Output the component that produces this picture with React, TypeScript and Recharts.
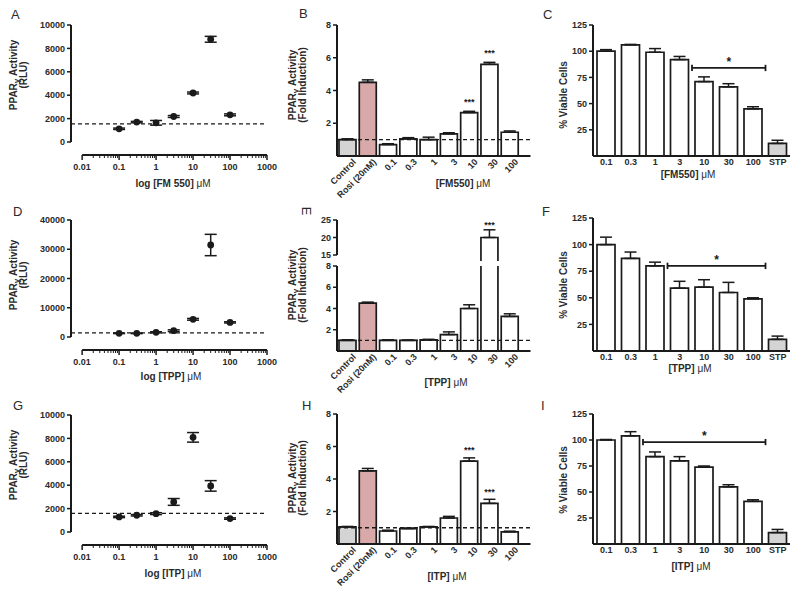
import React from "react";
import {
  ComposedChart,
  Bar,
  Scatter,
  XAxis,
  YAxis,
  ReferenceLine,
  ErrorBar,
  Cell,
  LabelList,
} from "recharts";

const FONT = '"Liberation Sans", Arial, Helvetica, sans-serif';
const INK = "#1a1a1a";
const TXT = "#2a2a2a";

// ---------- Dose-response (A, D, G) ----------
const concentrations = [0.1, 0.3, 1, 3, 10, 30, 100];
const fm550Rlu = [1130, 1700, 1640, 2180, 4190, 8780, 2320];
const fm550RluErr = [60, 60, 200, 80, 80, 250, 80];
const tppRlu = [1260, 1260, 1600, 2150, 6050, 31450, 5000];
const tppRluErr = [100, 100, 200, 300, 300, 3650, 200];
const itpRlu = [1290, 1430, 1570, 2570, 8090, 3940, 1150];
const itpRluErr = [60, 60, 80, 290, 410, 450, 60];
const logMajorTicks = [0.01, 0.1, 1, 10, 100, 1000];
const logMinorSteps = [2, 3, 4, 5, 6, 7, 8, 9];
const rluTicks10k = [0, 2000, 4000, 6000, 8000, 10000];
const rluTicks40k = [0, 10000, 20000, 30000, 40000];

// ---------- Transactivation (B, E, H) ----------
const transCategories = ["Control", "Rosi (20nM)", "0.1", "0.3", "1", "3", "10", "30", "100"];
const fm550Fold = [1.0, 4.5, 0.7, 1.05, 1.0, 1.35, 2.65, 5.6, 1.45];
const fm550FoldErr = [0.05, 0.15, 0.05, 0.07, 0.15, 0.07, 0.08, 0.12, 0.08];
const fm550FoldSig = ["", "", "", "", "", "", "***", "***", ""];
const tppFold = [1.0, 4.5, 1.0, 1.0, 1.05, 1.55, 4.0, 20.0, 3.25];
const tppFoldErr = [0.05, 0.1, 0.05, 0.03, 0.05, 0.25, 0.35, 2.2, 0.25];
const tppFoldSig = ["", "", "", "", "", "", "", "***", ""];
const itpFold = [1.05, 4.5, 0.8, 0.95, 1.05, 1.6, 5.1, 2.5, 0.75];
const itpFoldErr = [0.03, 0.15, 0.05, 0.03, 0.03, 0.1, 0.2, 0.25, 0.04];
const itpFoldSig = ["", "", "", "", "", "", "***", "***", ""];
const foldTicks = [2, 4, 6, 8];
const foldBreakTicks = [15, 20, 25];

// ---------- Viability (C, F, I) ----------
const viabilityCategories = ["0.1", "0.3", "1", "3", "10", "30", "100", "STP"];
const fm550Viable = [100, 106, 99, 92, 71, 66, 45, 12];
const fm550ViableErr = [1.5, 0.5, 3.5, 3, 4.5, 3, 2, 3];
const tppViable = [100, 87, 80, 59, 60, 55, 49, 11];
const tppViableErr = [7, 6, 3.5, 6.5, 7, 9.5, 1, 3];
const itpViable = [100, 104, 84, 80, 74, 55, 41, 11];
const itpViableErr = [0.5, 4, 4.5, 4, 1, 2, 1.5, 3];
const viableTicks = [25, 50, 75, 100, 125];

const WHITE = "#ffffff";
const GRAY = "#d4d4d4";
const PINK = "#d9a9a9";
const fillFor = (name: string) =>
  name === "Control" || name === "STP" ? GRAY : name.startsWith("Rosi") ? PINK : WHITE;

const tickStyle = { fontSize: 9, fontWeight: "bold", fill: TXT, fontFamily: FONT } as any;

// ---------- ticks ----------
const LogTick = (props: any) => {
  const { x, y, payload } = props;
  const v = payload.value;
  const major = logMajorTicks.includes(v);
  return (
    <g>
      <line x1={x} x2={x} y1={y} y2={y + (major ? 5 : 3)} stroke={INK} strokeWidth={major ? 1.5 : 1} />
      {major && (
        <text x={x} y={y + 15} textAnchor="middle" style={tickStyle}>
          {String(v)}
        </text>
      )}
    </g>
  );
};

// ---------- Dose panel ----------
function DosePanel(props: {
  plotLeft: number;
  plotTop: number;
  values: number[];
  errs: number[];
  yMax: number;
  yTicks: number[];
  baseline: number;
}) {
  const { plotLeft, plotTop, values, errs, yMax, yTicks, baseline } = props;
  const plotW = 196;
  const plotH = 130;
  const yw = 42;
  const mt = 6;
  const mr = 16;
  const xh = 22;
  const yMin = -yMax / 9;
  const xMin = 0.005;
  const data = concentrations.map((c, i) => ({ x: c, y: values[i], err: errs[i] }));
  const minor: number[] = [];
  logMajorTicks.slice(0, -1).forEach((d) =>
    logMinorSteps.forEach((m) => minor.push(parseFloat((d * m).toPrecision(3))))
  );
  const ticks = [...logMajorTicks, ...minor].sort((a, b) => a - b);
  return (
    <div style={{ position: "absolute", left: plotLeft - yw, top: plotTop - mt }}>
      <ComposedChart
        width={yw + plotW + mr}
        height={mt + plotH + xh}
        data={data}
        margin={{ top: mt, right: mr, bottom: 0, left: 0 }}
      >
        <XAxis
          dataKey="x"
          type="number"
          scale="log"
          domain={[xMin, 1000]}
          allowDataOverflow
          ticks={ticks}
          interval={0}
          axisLine={false}
          tickLine={false}
          tickSize={0}
          tickMargin={0}
          tick={<LogTick />}
          height={xh}
        />
        <YAxis
          dataKey="y"
          type="number"
          domain={[yMin, yMax]}
          allowDataOverflow
          ticks={yTicks}
          interval={0}
          width={yw}
          axisLine={false}
          tickSize={4}
          tickMargin={2}
          tickLine={{ stroke: INK, strokeWidth: 1.5 }}
          tick={tickStyle}
        />
        <ReferenceLine
          segment={[{ x: xMin, y: 0 }, { x: xMin, y: yMax }]}
          stroke={INK}
          strokeWidth={2}
          ifOverflow="visible"
        />
        <ReferenceLine
          segment={[{ x: 0.01, y: yMin }, { x: 1000, y: yMin }]}
          stroke={INK}
          strokeWidth={2}
          ifOverflow="visible"
        />
        <ReferenceLine y={baseline} stroke={INK} strokeDasharray="4 3" strokeWidth={1.3} ifOverflow="visible" />
        <Scatter
          dataKey="y"
          isAnimationActive={false}
          shape={(p: any) => <circle cx={p.cx} cy={p.cy} r={3.4} fill={INK} />}
        >
          <ErrorBar dataKey="err" direction="y" width={6} stroke={INK} strokeWidth={1.5} />
        </Scatter>
      </ComposedChart>
    </div>
  );
}

// ---------- Bar panel ----------
function BarPanel(props: {
  categories: string[];
  values: (number | null)[];
  errs: number[][];
  sig?: string[];
  plotLeft: number;
  plotRight: number;
  plotTop: number;
  plotBottom: number;
  yDomain: [number, number];
  yTicks: number[];
  barSize: number;
  padLeft: number;
  padRight: number;
  tickKind: "rot" | "flat" | "none";
  baseline?: number;
  bracket?: { from: string; to: string; y: number };
  starOffset?: number;
  openBottom?: boolean;
  overflow?: boolean;
}) {
  const p = props;
  const yw = 30;
  const mt = 6;
  const mr = 4;
  const xh = p.tickKind === "rot" ? 50 : p.tickKind === "flat" ? 20 : 0;
  const mb = p.tickKind === "none" ? 8 : 0;
  const data = p.categories.map((name, i) => ({
    name,
    v: p.values[i],
    err: p.errs[i],
    sig: p.sig ? p.sig[i] : "",
  }));
  const plotW = p.plotRight - p.plotLeft;
  const plotH = p.plotBottom - p.plotTop;
  const openShape = (s: any) => {
    if (s.height == null || s.width == null || !s.height) return <g />;
    const x0 = s.x;
    const x1 = s.x + s.width;
    const yT = s.y;
    const yB = s.y + s.height + 6;
    return (
      <g>
        <rect x={x0} y={yT} width={s.width} height={s.height + 6} fill={WHITE} />
        <path d={`M${x0},${yB} L${x0},${yT} L${x1},${yT} L${x1},${yB}`} fill="none" stroke={INK} strokeWidth={1.7} />
      </g>
    );
  };
  return (
    <div style={{ position: "absolute", left: p.plotLeft - yw, top: p.plotTop - mt }}>
      <ComposedChart
        width={yw + plotW + mr}
        height={mt + plotH + xh + mb}
        data={data}
        margin={{ top: mt, right: mr, bottom: mb, left: 0 }}
      >
        {p.tickKind === "none" && (
          <XAxis dataKey="name" type="category" hide padding={{ left: p.padLeft, right: p.padRight }} />
        )}
        {p.tickKind === "rot" && (
          <XAxis
            dataKey="name"
            type="category"
            height={xh}
            padding={{ left: p.padLeft, right: p.padRight }}
            axisLine={{ stroke: INK, strokeWidth: 2 }}
            tickLine={false}
            tickSize={0}
            tickMargin={2}
            interval={0}
            angle={-45}
            textAnchor="end"
            tick={{ ...tickStyle, dx: 5 }}
          />
        )}
        {p.tickKind === "flat" && (
          <XAxis
            dataKey="name"
            type="category"
            height={xh}
            padding={{ left: p.padLeft, right: p.padRight }}
            axisLine={{ stroke: INK, strokeWidth: 2 }}
            tickLine={false}
            tickSize={0}
            tickMargin={3}
            interval={0}
            tick={tickStyle}
          />
        )}
        <YAxis
          type="number"
          domain={p.yDomain}
          allowDataOverflow={!!p.overflow}
          ticks={p.yTicks}
          interval={0}
          width={yw}
          axisLine={{ stroke: INK, strokeWidth: 2 }}
          tickSize={4}
          tickMargin={2}
          tickLine={{ stroke: INK, strokeWidth: 1.5 }}
          tick={tickStyle}
        />
        <Bar
          dataKey="v"
          barSize={p.barSize}
          stroke={INK}
          strokeWidth={1.7}
          isAnimationActive={false}
          shape={p.openBottom ? openShape : undefined}
        >
          {data.map((d, i) => (
            <Cell key={i} fill={fillFor(d.name)} />
          ))}
          <ErrorBar dataKey="err" direction="y" width={6} stroke={INK} strokeWidth={1.5} />
          <LabelList
            dataKey="sig"
            position="top"
            offset={p.starOffset ?? 8}
            style={{ fontSize: 9, fontWeight: "bold", fill: INK, fontFamily: FONT }}
          />
        </Bar>
        {p.baseline != null && (
          <ReferenceLine y={p.baseline} stroke={INK} strokeDasharray="4 3" strokeWidth={1.3} />
        )}
        {p.bracket && (
          <ReferenceLine
            segment={[
              { x: p.bracket.from, y: p.bracket.y },
              { x: p.bracket.to, y: p.bracket.y },
            ]}
            position="start"
            stroke={INK}
            strokeWidth={1.8}
            label={{ value: "*", position: "top", offset: 2, fontSize: 12, fontWeight: "bold", fill: INK, fontFamily: FONT }}
          />
        )}
        {p.bracket && (
          <ReferenceLine
            segment={[
              { x: p.bracket.from, y: p.bracket.y - 3 },
              { x: p.bracket.from, y: p.bracket.y + 3 },
            ]}
            position="start"
            stroke={INK}
            strokeWidth={1.8}
          />
        )}
        {p.bracket && (
          <ReferenceLine
            segment={[
              { x: p.bracket.to, y: p.bracket.y - 3 },
              { x: p.bracket.to, y: p.bracket.y + 3 },
            ]}
            position="start"
            stroke={INK}
            strokeWidth={1.8}
          />
        )}
      </ComposedChart>
    </div>
  );
}

const upErr = (errs: number[]) => errs.map((e) => [0, e]);

function TransPanel(props: { top: number; bottom: number; values: number[]; errs: number[]; sig: string[] }) {
  return (
    <BarPanel
      categories={transCategories}
      values={props.values}
      errs={upErr(props.errs)}
      sig={props.sig}
      plotLeft={336.5}
      plotRight={530}
      plotTop={props.top}
      plotBottom={props.bottom}
      yDomain={[0, 8]}
      yTicks={foldTicks}
      barSize={17}
      padLeft={0}
      padRight={11}
      tickKind="rot"
      baseline={1}
    />
  );
}

function ViabilityPanel(props: {
  top: number;
  bottom: number;
  values: number[];
  errs: number[];
  bracket: { from: string; to: string; y: number };
}) {
  return (
    <BarPanel
      categories={viabilityCategories}
      values={props.values}
      errs={upErr(props.errs)}
      plotLeft={593}
      plotRight={790}
      plotTop={props.top}
      plotBottom={props.bottom}
      yDomain={[0, 125]}
      yTicks={viableTicks}
      barSize={18}
      padLeft={1}
      padRight={0}
      tickKind="flat"
      bracket={props.bracket}
    />
  );
}

// ---------- text overlay ----------
const T = { fontFamily: FONT, fill: TXT } as any;

const Letter = ({ x, y, c, rot }: { x: number; y: number; c: string; rot?: boolean }) =>
  rot ? (
    <g transform={`translate(${x},${y})`}>
      <g transform="rotate(90)">
        <text x={0} y={4} textAnchor="middle" style={{ ...T, fontSize: 13 }}>
          {c}
        </text>
      </g>
    </g>
  ) : (
    <text x={x} y={y} style={{ ...T, fontSize: 13 }}>
      {c}
    </text>
  );

const Ppar = () => (
  <>
    PPAR
    <tspan fontSize={8} dy={2}>
      γ
    </tspan>
    <tspan dy={-2}> Activity</tspan>
  </>
);

const VTitle = ({ x, y, children }: { x: number; y: number; children: any }) => (
  <g transform={`translate(${x},${y})`}>
    <g transform="rotate(-90)">
      <text x={0} y={0} textAnchor="middle" style={{ ...T, fontSize: 10, fontWeight: "bold" }}>
        {children}
      </text>
    </g>
  </g>
);

const HTitle = ({ x, y, pre }: { x: number; y: number; pre: string }) => (
  <text x={x} y={y} textAnchor="middle" style={{ ...T, fontSize: 10, fontWeight: "bold" }}>
    {pre}
    <tspan fontWeight="normal">μM</tspan>
  </text>
);

export default function App() {
  return (
    <div
      style={{
        position: "absolute",
        left: 0,
        top: 0,
        width: 800,
        height: 600,
        background: "#fff",
        overflow: "hidden",
      }}
    >
      {/* Row 1 */}
      <DosePanel plotLeft={71} plotTop={25} values={fm550Rlu} errs={fm550RluErr} yMax={10000} yTicks={rluTicks10k} baseline={1550} />
      <TransPanel top={25} bottom={156} values={fm550Fold} errs={fm550FoldErr} sig={fm550FoldSig} />
      <ViabilityPanel top={25} bottom={156} values={fm550Viable} errs={fm550ViableErr} bracket={{ from: "10", to: "STP", y: 84 }} />

      {/* Row 2 */}
      <DosePanel plotLeft={71} plotTop={220} values={tppRlu} errs={tppRluErr} yMax={40000} yTicks={rluTicks40k} baseline={1400} />
      <BarPanel
        categories={transCategories}
        values={tppFold.map((v) => (v > 15 ? v : null))}
        errs={tppFoldErr.map((e, i) => (tppFold[i] > 15 ? [0, e] : [0, 0]))}
        sig={tppFoldSig}
        plotLeft={336.5}
        plotRight={530}
        plotTop={220}
        plotBottom={255}
        yDomain={[15, 25]}
        yTicks={foldBreakTicks}
        barSize={17}
        padLeft={0}
        padRight={11}
        tickKind="none"
        starOffset={10}
        openBottom
      />
      <BarPanel
        categories={transCategories}
        values={tppFold}
        errs={tppFoldErr.map((e, i) => (tppFold[i] > 8 ? [0, 0] : [0, e]))}
        plotLeft={336.5}
        plotRight={530}
        plotTop={266}
        plotBottom={351}
        yDomain={[0, 8]}
        yTicks={foldTicks}
        barSize={17}
        padLeft={0}
        padRight={11}
        tickKind="rot"
        baseline={1}
        overflow
      />
      <ViabilityPanel top={218} bottom={351} values={tppViable} errs={tppViableErr} bracket={{ from: "3", to: "STP", y: 80 }} />

      {/* Row 3 */}
      <DosePanel plotLeft={71} plotTop={415} values={itpRlu} errs={itpRluErr} yMax={10000} yTicks={rluTicks10k} baseline={1600} />
      <TransPanel top={414} bottom={544} values={itpFold} errs={itpFoldErr} sig={itpFoldSig} />
      <ViabilityPanel top={414} bottom={544} values={itpViable} errs={itpViableErr} bracket={{ from: "1", to: "STP", y: 98 }} />

      <svg width={800} height={600} style={{ position: "absolute", left: 0, top: 0, pointerEvents: "none" }}>
        <Letter x={11} y={19} c="A" />
        <Letter x={299} y={18} c="B" />
        <Letter x={543} y={19} c="C" />
        <Letter x={13} y={216} c="D" />
        <Letter x={306} y={211} c="E" rot />
        <Letter x={542} y={216} c="F" />
        <Letter x={13} y={410} c="G" />
        <Letter x={302} y={410} c="H" />
        <Letter x={541} y={410} c="I" />

        <VTitle x={17} y={75}><Ppar /></VTitle>
        <VTitle x={27} y={75}>(RLU)</VTitle>
        <VTitle x={17} y={275}><Ppar /></VTitle>
        <VTitle x={27} y={275}>(RLU)</VTitle>
        <VTitle x={17} y={465}><Ppar /></VTitle>
        <VTitle x={27} y={465}>(RLU)</VTitle>

        <VTitle x={296} y={85}><Ppar /></VTitle>
        <VTitle x={306} y={85}>(Fold Induction)</VTitle>
        <VTitle x={296} y={285}><Ppar /></VTitle>
        <VTitle x={306} y={285}>(Fold Induction)</VTitle>
        <VTitle x={296} y={478}><Ppar /></VTitle>
        <VTitle x={306} y={478}>(Fold Induction)</VTitle>

        <VTitle x={567} y={95}>% Viable Cells</VTitle>
        <VTitle x={567} y={285}>% Viable Cells</VTitle>
        <VTitle x={567} y={480}>% Viable Cells</VTitle>

        <HTitle x={173} y={187} pre="log [FM 550] " />
        <HTitle x={171} y={380} pre="log [TPP] " />
        <HTitle x={173} y={577} pre="log [ITP] " />
        <HTitle x={463} y={187} pre="[FM550] " />
        <HTitle x={446} y={386} pre="[TPP] " />
        <HTitle x={447} y={580} pre="[ITP] " />
        <HTitle x={688} y={178} pre="[FM550] " />
        <HTitle x={690} y={372} pre="[TPP] " />
        <HTitle x={691} y={570} pre="[ITP] " />
      </svg>
    </div>
  );
}
